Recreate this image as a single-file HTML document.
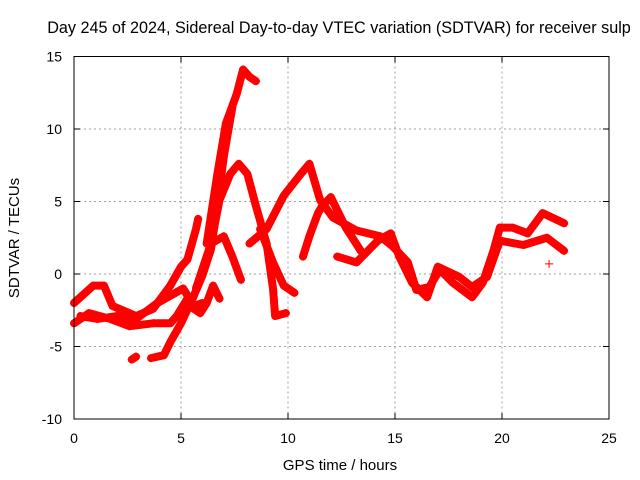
<!DOCTYPE html>
<html><head><meta charset="utf-8"><style>
html,body{margin:0;padding:0;background:#fff}
svg{display:block;font-family:"Liberation Sans",sans-serif}
</style></head><body>
<svg id="chart" width="640" height="480" viewBox="0 0 640 480">
<text x="339" y="33" text-anchor="middle" font-size="16.2">Day 245 of 2024, Sidereal Day-to-day VTEC variation (SDTVAR) for receiver sulp</text>
<g id="grid"></g>
<g id="ticks"></g>
<g id="series"></g>
<rect x="74" y="56.5" width="535" height="362.5" fill="none" stroke="#000" stroke-width="1"/>
<text x="340" y="470" text-anchor="middle" font-size="15">GPS time / hours</text>
<text transform="translate(19,238) rotate(-90)" text-anchor="middle" font-size="15">SDTVAR / TECUs</text>
</svg>
<script>
const xTicks=[0,5,10,15,20,25];
const yTicks=[-10,-5,0,5,10,15];
const trackA=[[6.2,2.1],[6.7,6.9],[7.1,10.4],[7.6,12.4],[7.9,14.1],[8.2,13.6],[8.5,13.3]];
const trackB=[[3.6,-5.8],[4.2,-5.6],[4.5,-4.7],[5.0,-3.4],[5.6,-1.5],[6.0,-0.1],[6.4,1.7],[6.7,4.7],[7.0,8.1],[7.4,11.5]];
const trackC=[[6.4,2.1],[7.0,2.6],[7.4,1.2],[7.8,-0.4]];
const trackD=[[5.7,-1.0],[6.4,2.1],[6.8,5.1],[7.3,6.9],[7.7,7.6],[8.1,6.9],[8.5,4.7],[9.0,2.1],[9.3,-1.0],[9.4,-2.9],[9.9,-2.7]];
const trackE=[[8.7,3.1],[9.3,0.8],[9.8,-0.8],[10.3,-1.3]];
const trackF=[[8.2,2.1],[9.0,3.1],[9.8,5.4],[10.6,6.9],[11.0,7.6],[11.5,5.1],[12.1,3.9],[13.2,3.0],[14.3,2.6],[14.9,1.9],[15.6,0.8],[16.0,-1.1],[16.6,-0.9],[17.1,0.3],[17.7,-0.6],[18.6,-1.6],[19.1,-0.6],[19.6,1.6],[19.9,3.2],[20.5,3.2],[21.2,2.8],[21.9,4.2],[22.9,3.5]];
const trackG=[[10.7,1.2],[11.0,2.6],[11.4,4.2],[11.6,4.7],[12.0,5.3],[12.7,3.2],[13.4,1.6]];
const trackH=[[12.3,1.2],[13.2,0.8],[14.2,2.3],[14.8,2.8],[15.2,1.2],[15.8,-0.6],[16.5,-1.6],[17.0,0.5],[18.0,-0.2],[18.6,-0.9],[19.3,-0.2],[19.9,2.3],[21.0,2.0],[22.1,2.5],[22.9,1.6]];
const trackL1=[[0,-2.0],[0.9,-0.8],[1.4,-0.8],[1.8,-2.2],[2.9,-2.9],[3.7,-2.4],[4.5,-0.8],[5.0,0.5],[5.3,1.0],[5.7,3.1],[5.8,3.8]];
const trackL2=[[0,-3.4],[0.7,-2.7],[1.7,-3.1],[2.6,-3.6],[3.7,-3.4],[4.5,-3.4],[4.8,-2.9],[5.3,-1.7],[5.6,-2.4],[5.9,-2.7],[6.2,-2.0],[6.5,-0.8],[6.8,-1.7]];
const trackL3=[[0.3,-2.9],[1.1,-3.1],[2.0,-2.9],[2.9,-3.1],[3.9,-2.0],[4.5,-1.5],[5.1,-1.0],[5.6,-2.2],[6.0,-2.0]];
const trackS1=[[2.7,-5.9],[2.9,-5.7]];
const trackS2=[[22.2,0.7]];
const tracks=[trackA,trackB,trackC,trackD,trackE,trackF,trackG,trackH,trackL1,trackL2,trackL3,trackS1];
const NS="http://www.w3.org/2000/svg";
const X0=74,X1=609,Y0=419,Y1=56.5;
function sx(v){return X0+(v-0)/(25-0)*(X1-X0);}
function sy(v){return Y0-(v-(-10))/(15-(-10))*(Y0-Y1);}
const grid=document.getElementById('grid'),ticks=document.getElementById('ticks'),series=document.getElementById('series');
function mk(tag,attrs,parent){const e=document.createElementNS(NS,tag);for(const k in attrs)e.setAttribute(k,attrs[k]);parent.appendChild(e);return e;}
xTicks.forEach(t=>{
  const x=sx(t);
  if(t>0&&t<25){const g=mk('line',{x1:x,x2:x,y1:Y1,y2:Y0,stroke:'#a0a0a0','stroke-dasharray':'2,3'},grid);
  
  }
  mk('line',{x1:x,x2:x,y1:Y0,y2:Y0-6,stroke:'#000'},ticks);
  mk('line',{x1:x,x2:x,y1:Y1,y2:Y1+6,stroke:'#000'},ticks);
  const l=mk('text',{x:x,y:443,'text-anchor':'middle','font-size':'14'},ticks);
  l.textContent=t;
  
  
});
yTicks.forEach(t=>{
  const y=sy(t);
  if(t>-10&&t<15){const g=mk('line',{x1:X0,x2:X1,y1:y,y2:y,stroke:'#a0a0a0','stroke-dasharray':'2,3'},grid);
  
  }
  mk('line',{x1:X0,x2:X0+6,y1:y,y2:y,stroke:'#000'},ticks);
  mk('line',{x1:X1,x2:X1-6,y1:y,y2:y,stroke:'#000'},ticks);
  const l=mk('text',{x:62,y:y+5,'text-anchor':'end','font-size':'14'},ticks);
  l.textContent=t;
  
  
});
tracks.forEach(tr=>{
  const p=mk('polyline',{points:tr.map(d=>sx(d[0])+','+sy(d[1])).join(' '),fill:'none',stroke:'#ff0000','stroke-width':'8','stroke-linejoin':'round','stroke-linecap':'round'},series);
  
  
});
[...tracks,trackS2].forEach(tr=>tr.forEach(d=>{
  const x=sx(d[0]),y=sy(d[1]);
  const m=mk('path',{d:`M${x-4},${y}H${x+4}M${x},${y-4}V${y+4}`,stroke:'#ff0000','stroke-width':'1'},series);
  
  
}));
</script>
</body></html>
